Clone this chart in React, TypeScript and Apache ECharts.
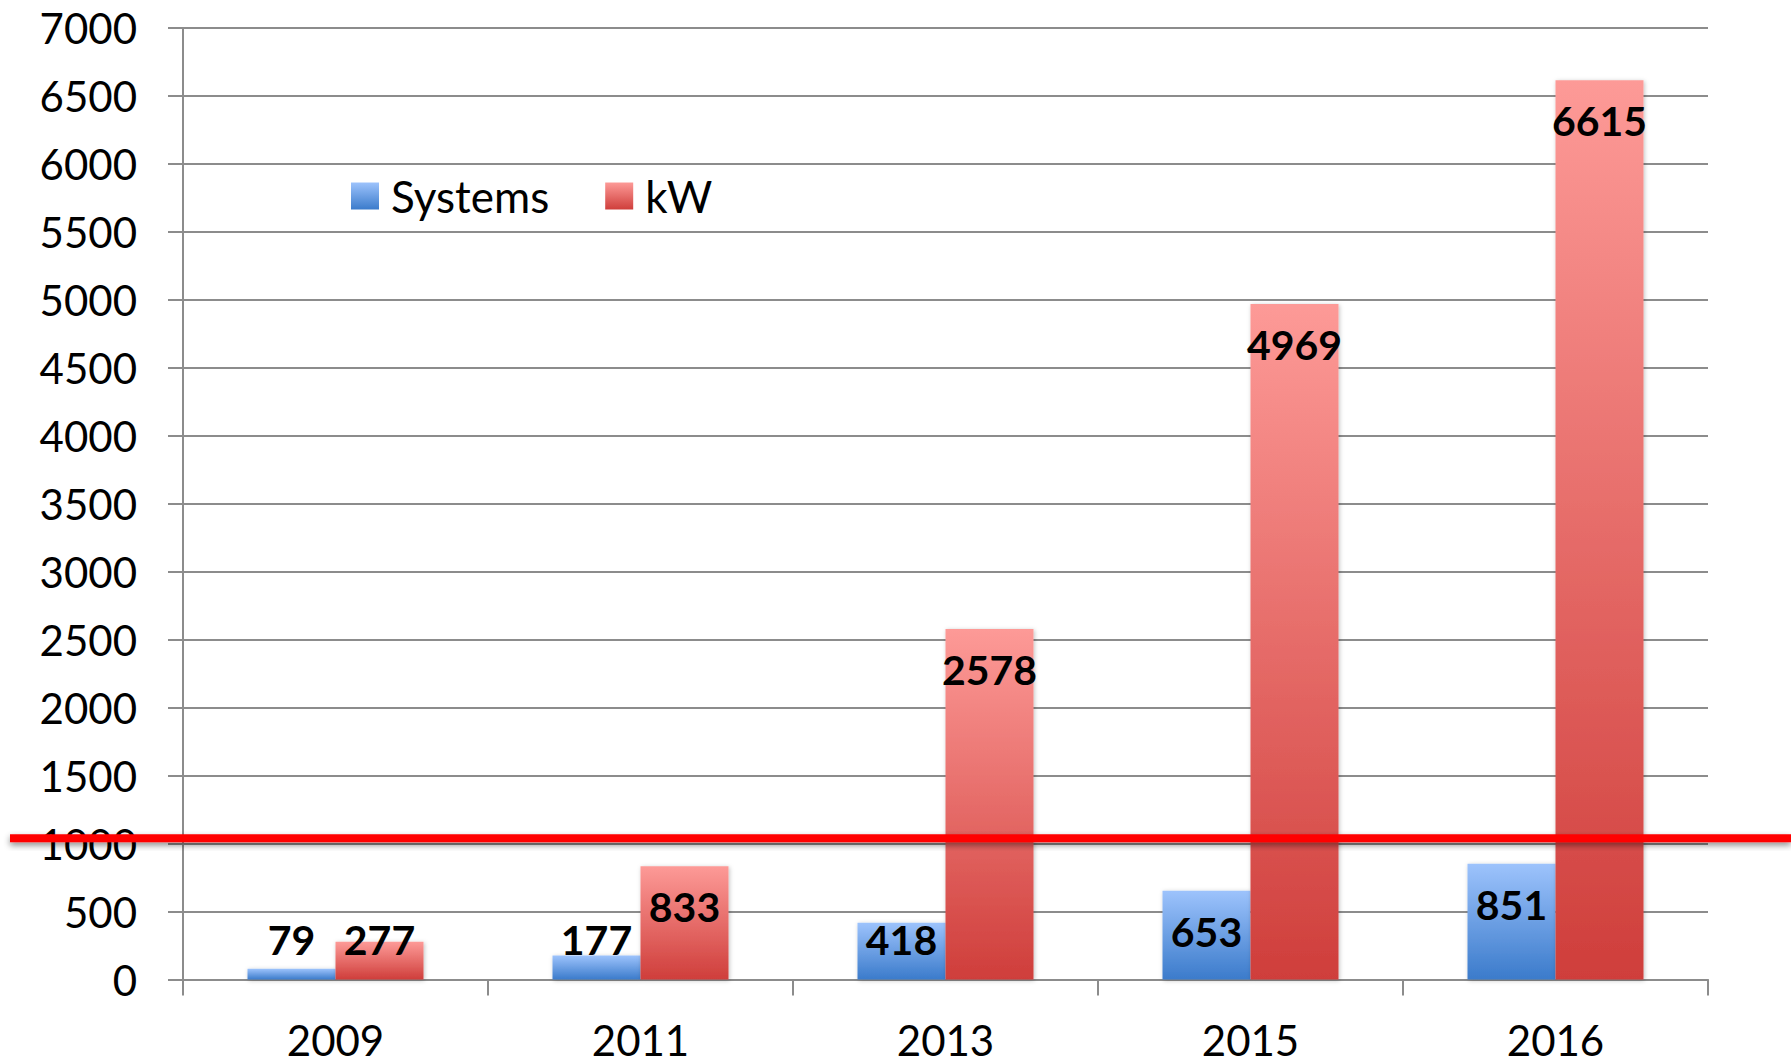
import React, { useEffect, useRef } from "react";
import * as echarts from "echarts";

const categories = ["2009", "2011", "2013", "2015", "2016"];
const systemsValues = [79, 177, 418, 653, 851];
const kwValues = [277, 833, 2578, 4969, 6615];
const Y_MAX = 7000;
const Y_STEP = 500;
const REF_LINE_VALUE = 1040;

const FONT = "Lato, 'Open Sans', sans-serif";
const W = 1791;
const H = 1061;
const GRID = { left: 183, right: 83, top: 28, bottom: 81.5 };
const PLOT_H = H - GRID.top - GRID.bottom;
const LABEL_BOX_PX = 60;

function labelled(values: number[]) {
  return values.map((v) => ({
    value: v,
    label: {
      position: (v / Y_MAX) * PLOT_H >= LABEL_BOX_PX ? "insideTop" : "insideBottom",
      distance: 20,
    },
  }));
}

export default function App() {
  const ref = useRef<HTMLDivElement>(null);
  useEffect(() => {
    document.body.style.margin = "0";
    const chart = echarts.init(ref.current!, null, { renderer: "svg" });
    const labelStyle = {
      show: true,
      fontFamily: FONT,
      fontWeight: "bold" as const,
      fontSize: 41,
      color: "#000",
    };
    const shadow = {
      shadowBlur: 4,
      shadowColor: "rgba(0,0,0,0.25)",
      shadowOffsetX: 1,
      shadowOffsetY: 1,
    };
    const yRef = GRID.top + PLOT_H * (1 - REF_LINE_VALUE / Y_MAX);
    chart.setOption({
      animation: false,
      backgroundColor: "#fff",
      grid: { ...GRID, containLabel: false, outerBoundsMode: "none" },
      legend: {
        data: ["Systems", "kW"],
        left: 351,
        top: 174,
        padding: 0,
        icon: "rect",
        itemWidth: 28,
        itemHeight: 27,
        itemGap: 56,
        textStyle: { fontFamily: FONT, fontSize: 44, color: "#000", padding: [0, 0, 0, 7] },
      },
      xAxis: {
        type: "category",
        data: categories,
        axisLine: { lineStyle: { color: "#8c8c8c", width: 2 } },
        axisTick: { show: true, length: 16, lineStyle: { color: "#8c8c8c", width: 2 } },
        axisLabel: { fontFamily: FONT, fontSize: 42, lineHeight: 42, color: "#000", margin: 39 },
      },
      yAxis: {
        type: "value",
        min: 0,
        max: Y_MAX,
        interval: Y_STEP,
        axisLine: { show: true, lineStyle: { color: "#8c8c8c", width: 2 } },
        axisTick: { show: true, length: 15, lineStyle: { color: "#8c8c8c", width: 2 } },
        splitLine: { lineStyle: { color: "#8c8c8c", width: 2 } },
        axisLabel: {
          fontFamily: FONT,
          fontSize: 42,
          color: "#000",
          margin: 46,
          formatter: (v: number) => String(v),
        },
      },
      graphic: [
        {
          type: "rect",
          shape: { x: 10, y: yRef - 4, width: W - 10, height: 8 },
          style: {
            fill: "#ff0000",
            shadowBlur: 6,
            shadowColor: "rgba(0,0,0,0.45)",
            shadowOffsetY: 3,
          },
          z: 100,
        },
      ],
      series: [
        {
          name: "Systems",
          type: "bar",
          barWidth: 88,
          barGap: "0%",
          data: labelled(systemsValues),
          label: labelStyle,
          itemStyle: {
            color: new echarts.graphic.LinearGradient(0, 0, 0, 1, [
              { offset: 0, color: "#9dc3fc" },
              { offset: 1, color: "#3b7bcb" },
            ]),
            ...shadow,
          },
        },
        {
          name: "kW",
          type: "bar",
          barWidth: 88,
          barGap: "0%",
          data: labelled(kwValues),
          label: labelStyle,
          itemStyle: {
            color: new echarts.graphic.LinearGradient(0, 0, 0, 1, [
              { offset: 0, color: "#fd9a97" },
              { offset: 1, color: "#cf3e3b" },
            ]),
            ...shadow,
          },
        },
      ],
    });
    return () => chart.dispose();
  }, []);
  return <div ref={ref} style={{ width: W, height: H }} />;
}
